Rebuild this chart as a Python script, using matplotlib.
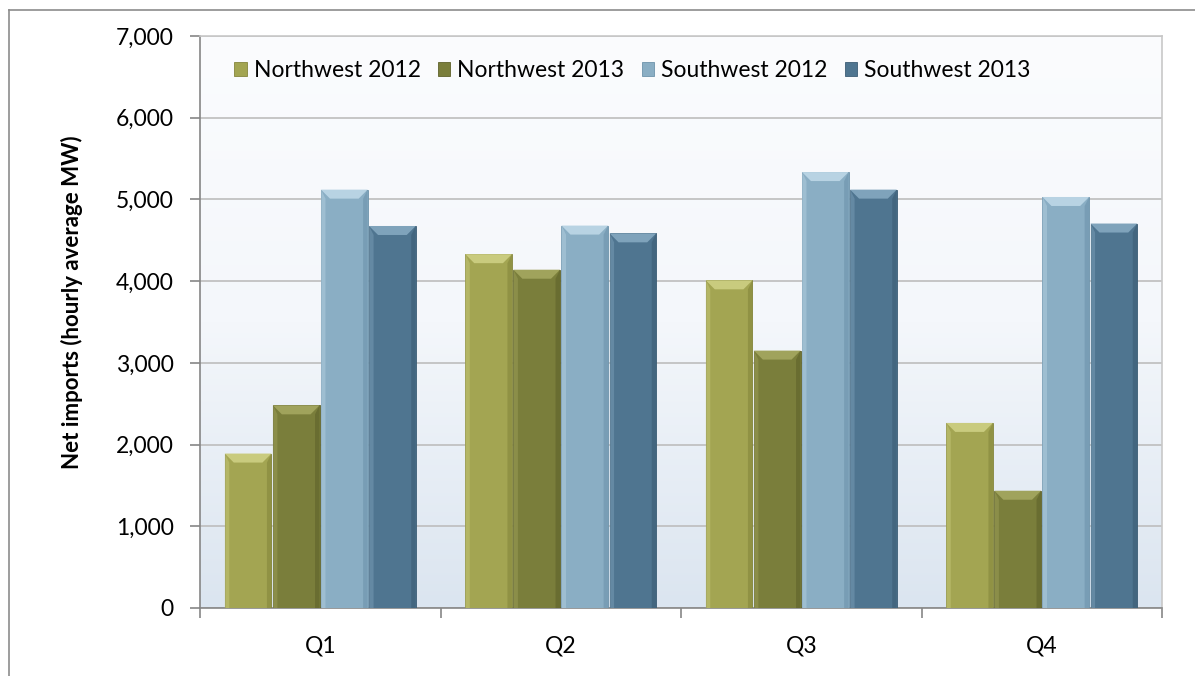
import matplotlib
matplotlib.use("Agg")
import matplotlib.pyplot as plt
import numpy as np
from matplotlib.patches import Polygon
from matplotlib.ticker import FuncFormatter, MultipleLocator, FixedLocator
from matplotlib.lines import Line2D
from matplotlib.colors import LinearSegmentedColormap

plt.rcParams['font.family'] = ['Lato', 'DejaVu Sans']

quarters = ["Q1", "Q2", "Q3", "Q4"]
series_names = ["Northwest 2012", "Northwest 2013", "Southwest 2012", "Southwest 2013"]
northwest_2012 = [1890, 4330, 4010, 2265]
northwest_2013 = [2480, 4140, 3150, 1435]
southwest_2012 = [5120, 4680, 5335, 5030]
southwest_2013 = [4675, 4585, 5120, 4705]
series_values = [northwest_2012, northwest_2013, southwest_2012, southwest_2013]
colors = ["#a3a552", "#7a7e3b", "#8aaec4", "#4f7590"]
light = ["#c9cb7e", "#a0a35c", "#b8d3e3", "#7fa3bb"]
dark = ["#84863c", "#5f622b", "#6d93ab", "#3c5d75"]

W, H = 1195, 676
fig = plt.figure(figsize=(W / 100, H / 100), dpi=100)
ax = fig.add_axes([200 / W, 1 - 608 / H, (1162 - 200) / W, (608 - 36) / H])

# figure border (top and left only visible)
fig.add_artist(Line2D([9 / W, 9 / W], [0, 1 - 10 / H], transform=fig.transFigure, color="#8c8c8c", lw=1.2))
fig.add_artist(Line2D([9 / W, 1], [1 - 10 / H, 1 - 10 / H], transform=fig.transFigure, color="#8c8c8c", lw=1.2))

# gradient background
grad = np.linspace(1, 0, 256).reshape(-1, 1)
cmap = LinearSegmentedColormap.from_list("bg", ["#dbe5f0", "#f4f7fb", "#fbfcfe"])
ax.imshow(grad, extent=[-0.5, 3.5, 0, 7000], aspect="auto", cmap=cmap, origin="upper", zorder=0)
ax.set_xlim(-0.5, 3.5)
ax.set_ylim(0, 7000)

ax.yaxis.set_major_locator(MultipleLocator(1000))
ax.yaxis.set_major_formatter(FuncFormatter(lambda v, p: f"{int(v):,}"))
ax.grid(axis="y", color="#bdbdbd", lw=1.2, zorder=1)
ax.set_axisbelow(True)

x = np.arange(len(quarters))
bw = 0.2
offsets = [-1.5, -0.5, 0.5, 1.5]

# pixel -> data conversion for bevel
px_x = 4.0 / (1162 - 200)
px_y = 7000.0 / (608 - 36)
bx, by = 9 * px_x, 9 * px_y

for i, (vals, c) in enumerate(zip(series_values, colors)):
    bars = ax.bar(x + offsets[i] * bw, vals, width=bw * 0.97, color=c, edgecolor=dark[i],
                  linewidth=0.6, zorder=3, label=series_names[i])
    for b in bars:
        x0, w, h = b.get_x(), b.get_width(), b.get_height()
        x1 = x0 + w
        ax.add_patch(Polygon([[x0, h], [x1, h], [x1 - bx, h - by], [x0 + bx, h - by]],
                             closed=True, facecolor=light[i], edgecolor="none", zorder=4))
        ax.add_patch(Polygon([[x0, h], [x0 + bx * 0.5, h - by], [x0 + bx * 0.5, 0], [x0, 0]],
                             closed=True, facecolor=light[i], edgecolor="none", alpha=0.45, zorder=4))
        ax.add_patch(Polygon([[x1, h], [x1 - bx * 0.5, h - by], [x1 - bx * 0.5, 0], [x1, 0]],
                             closed=True, facecolor=dark[i], edgecolor="none", alpha=0.6, zorder=4))

ax.set_xticks(x)
ax.set_xticklabels(quarters)
ax.xaxis.set_minor_locator(FixedLocator([-0.5, 0.5, 1.5, 2.5, 3.5]))
ax.tick_params(axis="x", which="major", length=0, pad=20, labelsize=16.5)
ax.tick_params(axis="x", which="minor", length=7, color="#868686", width=1.2)
ax.tick_params(axis="y", length=7, color="#868686", width=1.2, pad=12, labelsize=16.5)

for s in ["left", "bottom"]:
    ax.spines[s].set_color("#868686")
    ax.spines[s].set_linewidth(1.2)
for s in ["top", "right"]:
    ax.spines[s].set_color("#c8c8c8")
    ax.spines[s].set_linewidth(1.2)

ax.set_ylabel("Net imports (hourly average MW)", fontsize=16, fontweight="bold")
ax.yaxis.set_label_coords(-0.122, 0.535)

leg = ax.legend(loc="center left", bbox_to_anchor=(0.026, 0.94), ncol=4, frameon=False,
                fontsize=16.5, handlelength=0.55, handleheight=0.55, handletextpad=0.3,
                columnspacing=0.75, borderaxespad=0)

fig.savefig("out.png", dpi=100)
